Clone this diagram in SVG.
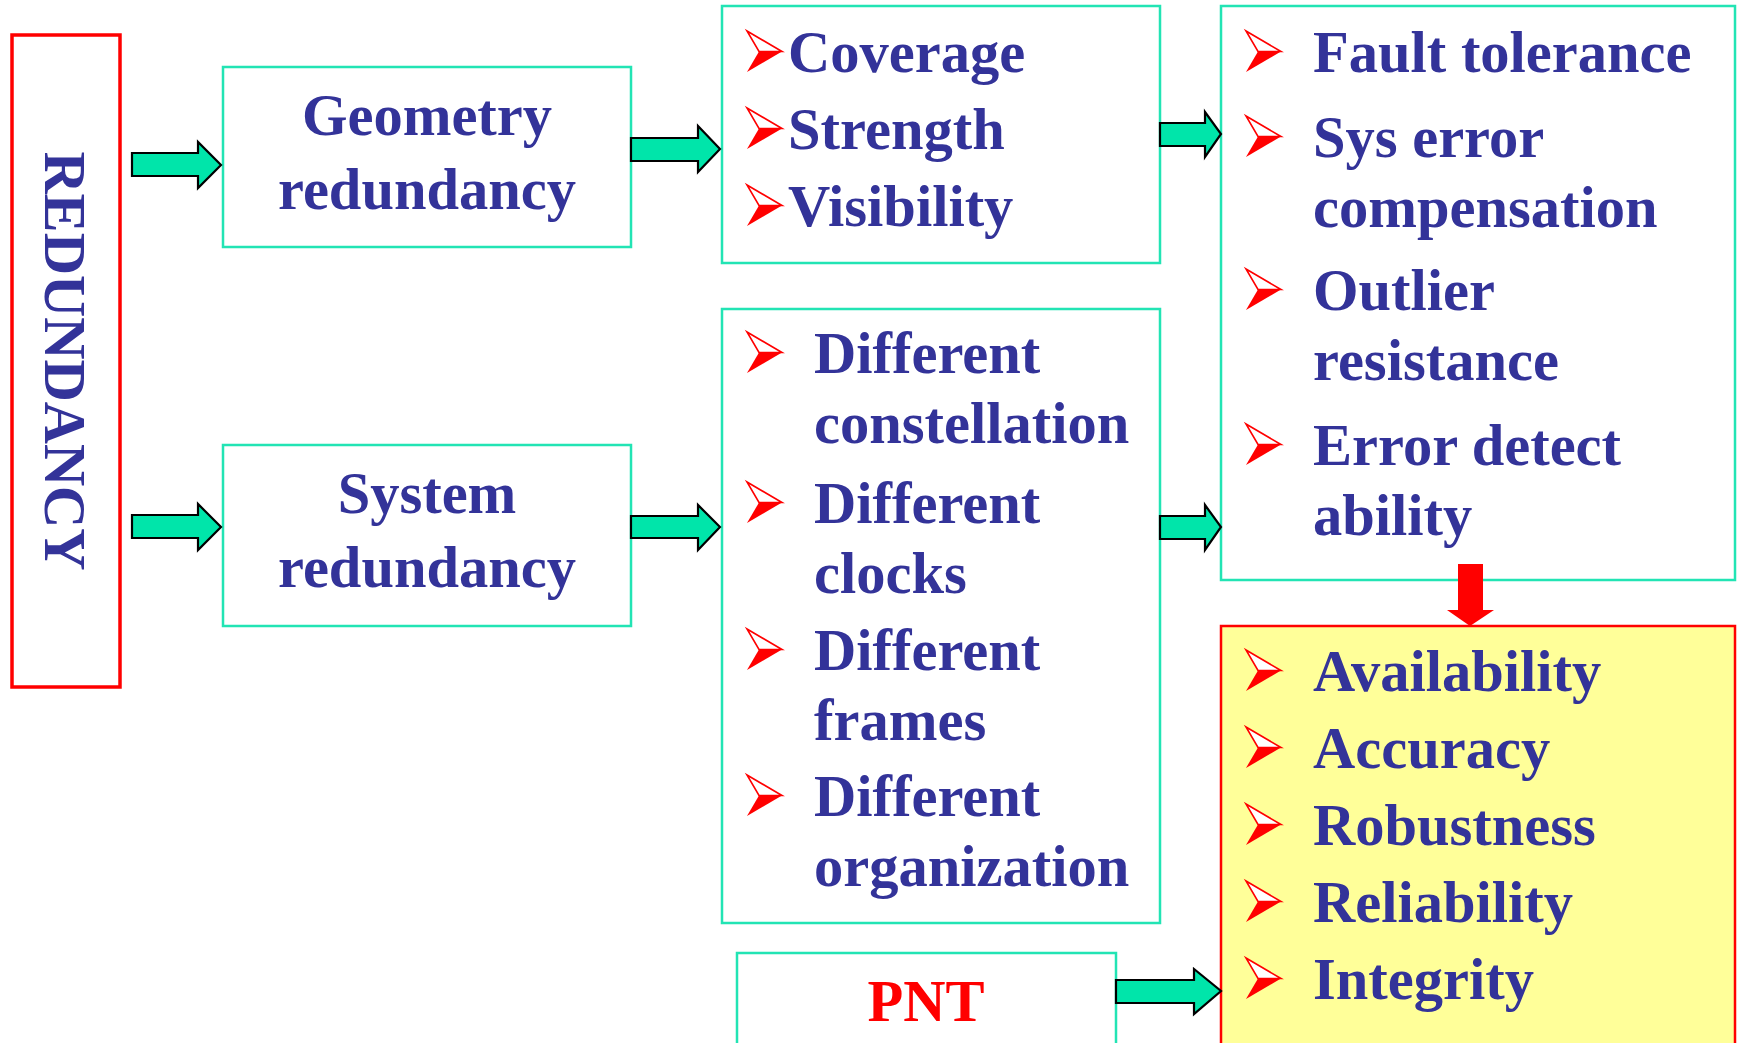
<svg xmlns="http://www.w3.org/2000/svg" width="1737" height="1043" viewBox="0 0 1737 1043">
  <style>
    .box { fill: #FFFFFF; stroke: #22E4B4; stroke-width: 2.5; }
    .lbl { font-family: "Liberation Serif", "Times New Roman", serif; font-weight: bold; font-size: 58.5px; fill: #333399; }
    .mid { text-anchor: middle; }
    .pnt { fill: #FF0000; }
    .flow { fill: #00E5AA; stroke: #000000; stroke-width: 2.2; stroke-linejoin: miter; }
  </style>
  <defs>
    <!-- red arrowhead bullet, bottom-left corner sits on the text baseline -->
    <g id="bullet">
      <polygon points="0,-41 35,-20.5 12,-20.5" fill="#FFFFFF" stroke="#FF0000" stroke-width="1.6" stroke-linejoin="miter"/>
      <polygon points="12,-20.5 35,-20.5 0,0" fill="#FF0000"/>
    </g>
  </defs>

  <rect width="1737" height="1043" fill="#FFFFFF"/>

  <g id="redundancy">
    <rect x="12" y="35" width="108" height="652" fill="#FFFFFF" stroke="#FF0000" stroke-width="3.5"/>
    <text class="lbl mid" transform="translate(45,361) rotate(90)">REDUNDANCY</text>
  </g>

  <g id="geometry">
    <rect class="box" x="223" y="67" width="408" height="180"/>
    <text class="lbl mid" x="427" y="135">Geometry</text>
    <text class="lbl mid" x="427" y="209">redundancy</text>
  </g>

  <g id="system">
    <rect class="box" x="223" y="445" width="408" height="181"/>
    <text class="lbl mid" x="427" y="513">System</text>
    <text class="lbl mid" x="427" y="587">redundancy</text>
  </g>

  <g id="coverage">
    <rect class="box" x="722" y="6" width="438" height="257"/>
    <use href="#bullet" x="747" y="72"/>
    <text class="lbl" x="788" y="72">Coverage</text>
    <use href="#bullet" x="747" y="149"/>
    <text class="lbl" x="788" y="149">Strength</text>
    <use href="#bullet" x="747" y="226"/>
    <text class="lbl" x="788" y="226">Visibility</text>
  </g>

  <g id="different">
    <rect class="box" x="722" y="309" width="438" height="614"/>
    <use href="#bullet" x="747" y="373"/>
    <text class="lbl" x="814" y="373">Different</text>
    <text class="lbl" x="814" y="443">constellation</text>
    <use href="#bullet" x="747" y="523"/>
    <text class="lbl" x="814" y="523">Different</text>
    <text class="lbl" x="814" y="593">clocks</text>
    <use href="#bullet" x="747" y="670"/>
    <text class="lbl" x="814" y="670">Different</text>
    <text class="lbl" x="814" y="740">frames</text>
    <use href="#bullet" x="747" y="816"/>
    <text class="lbl" x="814" y="816">Different</text>
    <text class="lbl" x="814" y="886">organization</text>
  </g>

  <g id="effects">
    <rect class="box" x="1221" y="6" width="514" height="574"/>
    <use href="#bullet" x="1246" y="72"/>
    <text class="lbl" x="1313" y="72">Fault tolerance</text>
    <use href="#bullet" x="1246" y="157"/>
    <text class="lbl" x="1313" y="157">Sys error</text>
    <text class="lbl" x="1313" y="227">compensation</text>
    <use href="#bullet" x="1246" y="310"/>
    <text class="lbl" x="1313" y="310">Outlier</text>
    <text class="lbl" x="1313" y="380">resistance</text>
    <use href="#bullet" x="1246" y="465"/>
    <text class="lbl" x="1313" y="465">Error detect</text>
    <text class="lbl" x="1313" y="535">ability</text>
  </g>

  <g id="performance">
    <rect x="1221" y="626" width="514" height="422" fill="#FFFF99" stroke="#FF0000" stroke-width="2.5"/>
    <use href="#bullet" x="1246" y="691"/>
    <text class="lbl" x="1313" y="691">Availability</text>
    <use href="#bullet" x="1246" y="768"/>
    <text class="lbl" x="1313" y="768">Accuracy</text>
    <use href="#bullet" x="1246" y="845"/>
    <text class="lbl" x="1313" y="845">Robustness</text>
    <use href="#bullet" x="1246" y="922"/>
    <text class="lbl" x="1313" y="922">Reliability</text>
    <use href="#bullet" x="1246" y="999"/>
    <text class="lbl" x="1313" y="999">Integrity</text>
  </g>

  <g id="pnt">
    <rect class="box" x="737" y="953" width="379" height="95"/>
    <text class="lbl mid pnt" x="926" y="1021">PNT</text>
  </g>

  <g id="connectors">
    <polygon class="flow" points="132,153 198,153 198,142 221,165 198,188 198,176 132,176"/>
    <polygon class="flow" points="132,515 198,515 198,504 221,527 198,550 198,538 132,538"/>
    <polygon class="flow" points="631,138 698,138 698,126 720,149 698,172 698,161 631,161"/>
    <polygon class="flow" points="631,516 698,516 698,505 720,527 698,550 698,538 631,538"/>
    <polygon class="flow" points="1160,123 1205,123 1205,112 1221,134 1205,157 1205,146 1160,146"/>
    <polygon class="flow" points="1160,516 1205,516 1205,505 1221,527 1205,550 1205,539 1160,539"/>
    <polygon class="flow" points="1116,980 1194,980 1194,969 1221,991 1194,1014 1194,1003 1116,1003"/>
    <polygon points="1458,564 1483,564 1483,610 1494,610 1470,626 1447,610 1458,610" fill="#FF0000"/>
  </g>
</svg>
